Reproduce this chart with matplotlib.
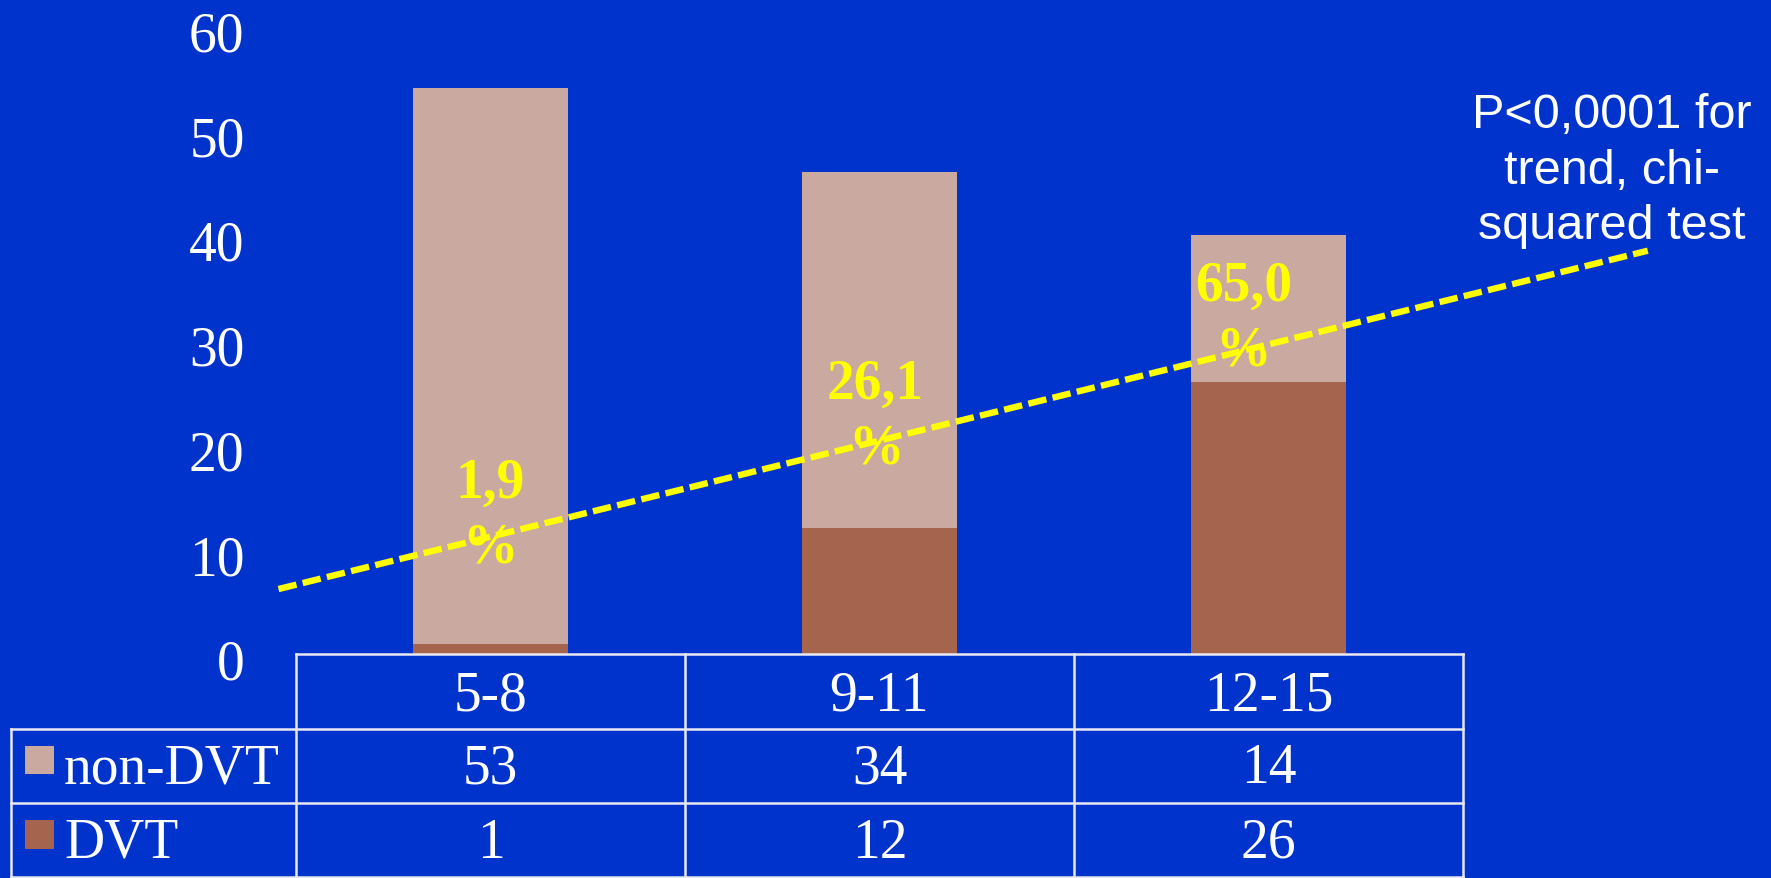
import matplotlib
matplotlib.use("Agg")
import matplotlib.pyplot as plt
import matplotlib.transforms as mtrans
from matplotlib.patches import Rectangle

# ---- data ----
categories = ["5-8", "9-11", "12-15"]
non_dvt = [53, 34, 14]
dvt = [1, 12, 26]
pct_labels = ["1,9\n%", "26,1\n%", "65,0\n%"]
series_names = ["non-DVT", "DVT"]
y_ticks = [0, 10, 20, 30, 40, 50, 60]
trend_x = [-0.545, 2.975]
trend_y = [6.2, 38.5]
annotation = "P<0,0001 for\ntrend, chi-\nsquared test"

# ---- style ----
BG = "#0033CC"
C_NON = "#C9A9A0"
C_DVT = "#A5644D"
YEL = "#FFFF00"
W, H = 1771, 879
serif = ["Liberation Serif", "DejaVu Serif"]
sans = ["Liberation Sans", "DejaVu Sans"]

fig = plt.figure(figsize=(W / 100, H / 100), dpi=100, facecolor=BG)
ax_l, ax_r = 296 / W, 1463 / W
ax_b = 1 - 655 / H
ax_t = 1 - 26.5 / H
ax = fig.add_axes([ax_l, ax_b, ax_r - ax_l, ax_t - ax_b])
ax.set_facecolor(BG)
x = list(range(len(categories)))
ax.bar(x, dvt, width=0.4, color=C_DVT, zorder=2)
ax.bar(x, non_dvt, width=0.4, bottom=dvt, color=C_NON, zorder=2)
ax.set_xlim(-0.5, 2.5)
ax.set_ylim(0, 60)
for s in ax.spines.values():
    s.set_visible(False)
ax.set_xticks([])
ax.set_yticks(y_ticks)
ax.set_yticklabels([str(t) for t in y_ticks], fontfamily=serif, fontsize=40, color="white")
ax.tick_params(axis="y", length=0, pad=37)
shift = mtrans.ScaledTranslation(0, -0.05, fig.dpi_scale_trans)
for lab in ax.get_yticklabels():
    lab.set_transform(lab.get_transform() + shift)

# trend line
ax.plot(trend_x, trend_y, color=YEL, lw=4.6, ls=(0, (2.9, 1.0)), clip_on=False, zorder=4,
        solid_capstyle="butt", dash_capstyle="butt")

# percent labels
label_y = [13.3, 22.7, 32.1]
label_dx = [0.0, -0.01, -0.065]
for i, t in enumerate(pct_labels):
    ax.text(x[i] + label_dx[i], label_y[i], t, ha="center", va="center", color=YEL,
            fontfamily=serif, fontweight="bold", fontsize=40, zorder=5, linespacing=1.32)

# annotation
fig.text(1612 / W, 1 - 171 / H, annotation, ha="center", va="center", color="white",
         fontfamily=sans, fontsize=35, linespacing=1.3)

# ---- table ----
tax = fig.add_axes([ax_l, 0, ax_r - ax_l, ax_b])
tax.set_xlim(-0.5, 2.5)
tax.set_ylim(0, 3)
tax.axis("off")
tax.patch.set_alpha(0)
inv = tax.transData.inverted()
left_x = inv.transform(fig.transFigure.transform((11 / W, 0)))[0]
lc = "#E8E8F0"
lw = 1.8
kw = dict(color=lc, lw=lw, clip_on=False)
tax.plot([-0.5, 2.5], [3, 3], **kw)
tax.plot([left_x, 2.5], [2, 2], **kw)
tax.plot([left_x, 2.5], [1, 1], **kw)
tax.plot([left_x, 2.5], [0.01, 0.01], **kw)
tax.plot([left_x, left_x], [0, 2], **kw)
for xv in [-0.5, 0.5, 1.5, 2.5]:
    tax.plot([xv, xv], [0, 3], **kw)
fs_t = 40
for i, c in enumerate(categories):
    tax.text(i, 2.45, c, ha="center", va="center", color="white", fontfamily=serif, fontsize=fs_t)
    tax.text(i, 1.47, str(non_dvt[i]), ha="center", va="center", color="white", fontfamily=serif, fontsize=fs_t)
    tax.text(i, 0.47, str(dvt[i]), ha="center", va="center", color="white", fontfamily=serif, fontsize=fs_t)

# legend swatches + names
sq_x0 = inv.transform(fig.transFigure.transform((25 / W, 0)))[0]
sq_x1 = inv.transform(fig.transFigure.transform((54 / W, 0)))[0]
txt_x = inv.transform(fig.transFigure.transform((64 / W, 0)))[0]
sq_h = 29 / 75
for row, (name, col) in zip([1, 0], zip(series_names, [C_NON, C_DVT])):
    tax.add_patch(Rectangle((sq_x0, row + 0.5 - sq_h / 2 + 0.08), sq_x1 - sq_x0, sq_h,
                            facecolor=col, edgecolor="none", clip_on=False))
    tax.text(txt_x, row + 0.47, name, ha="left", va="center", color="white", fontfamily=serif, fontsize=fs_t)

fig.savefig("out.png", dpi=100, facecolor=BG)
